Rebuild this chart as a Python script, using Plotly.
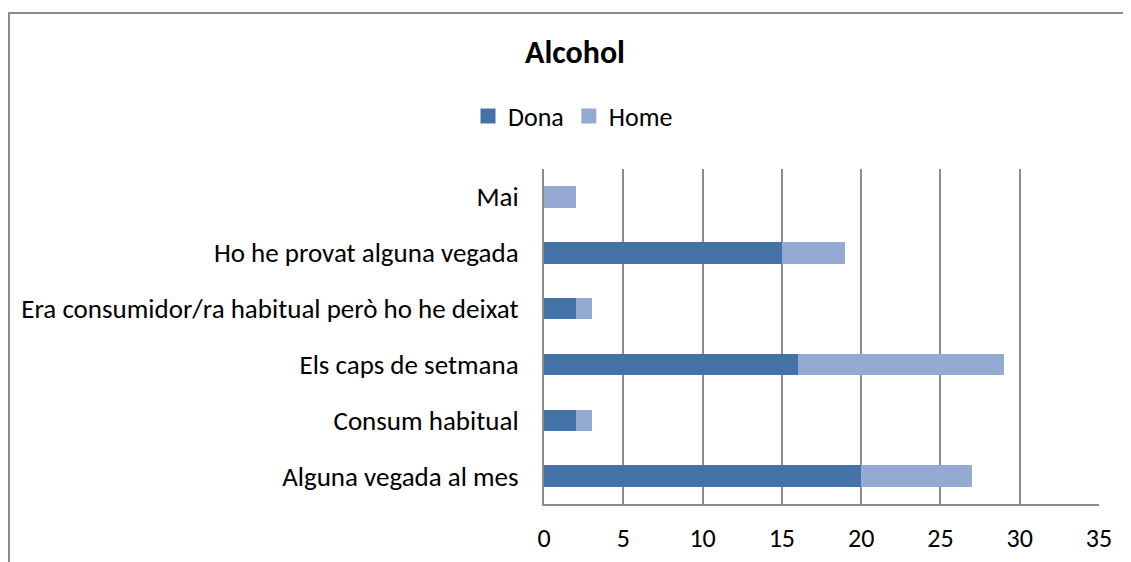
import plotly.graph_objects as go

categories = ["Alguna vegada al mes", "Consum habitual", "Els caps de setmana",
              "Era consumidor/ra habitual però ho he deixat", "Ho he provat alguna vegada", "Mai"]
dona = [20, 2, 16, 2, 15, 0]
home = [7, 1, 13, 1, 4, 2]
x_ticks = [0, 5, 10, 15, 20, 25, 30, 35]

FONT = "Carlito, Lato, Liberation Sans, sans-serif"
OFF = 8  # page body margin
C_DONA, C_HOME = "#4673A7", "#95AAD3"

W, H = 1131 - OFF, 562 - OFF
L, R, T, B = 544 - OFF, 1131 - 1099, 169 - OFF, 562 - 504
pw, ph = W - L - R, H - T - B

def px_x(p):  # screen px -> paper
    return (p - OFF - L) / pw

def px_y(p):
    return (H - B - (p - OFF)) / ph

fig = go.Figure()
fig.add_trace(go.Bar(y=categories, x=dona, name="Dona", orientation="h", showlegend=False,
                     marker=dict(color=C_DONA, line=dict(width=0))))
fig.add_trace(go.Bar(y=categories, x=home, name="Home", orientation="h", showlegend=False,
                     marker=dict(color=C_HOME, line=dict(width=0))))
# legend entries with larger square swatches
for name, col in [("Dona", C_DONA), ("Home", C_HOME)]:
    fig.add_trace(go.Scatter(x=[None], y=[None], mode="markers", name=name,
                             marker=dict(symbol="square", size=15, color=col),
                             hoverinfo="skip"))

fig.update_layout(
    width=W, height=H,
    margin=dict(l=L, r=R, t=T, b=B, autoexpand=False),
    barmode="stack", bargap=0.615,
    plot_bgcolor="white", paper_bgcolor="white",
    font=dict(family=FONT, size=26, color="#000000"),
    title=dict(text="<b>Alcohol</b>", x=px_x(575), xref="paper", xanchor="center",
               y=1 - (52 - OFF) / H, yref="container", yanchor="middle",
               font=dict(family=FONT, size=32, color="#000000")),
    legend=dict(orientation="h", x=px_x(468), xanchor="left", y=px_y(116), yanchor="middle",
                font=dict(family=FONT, size=26), traceorder="normal",
                bgcolor="rgba(0,0,0,0)"),
    showlegend=True,
    xaxis=dict(range=[0, 35], tickvals=x_ticks, ticktext=[str(v) for v in x_ticks],
               showgrid=True, gridcolor="#8C8C8C", gridwidth=2,
               showline=True, linecolor="#8C8C8C", linewidth=2,
               zeroline=False, ticks="", ticklabelstandoff=10,
               tickfont=dict(family=FONT, size=26)),
    yaxis=dict(categoryorder="array", categoryarray=categories,
               showgrid=False, showline=True, linecolor="#8C8C8C", linewidth=2,
               ticks="", ticklabelstandoff=18, tickfont=dict(family=FONT, size=27)),
    shapes=[
        dict(type="line", xref="paper", yref="paper", x0=px_x(8), x1=px_x(1200),
             y0=px_y(13), y1=px_y(13), line=dict(color="#8C8C8C", width=2)),
        dict(type="line", xref="paper", yref="paper", x0=px_x(9), x1=px_x(9),
             y0=px_y(12), y1=px_y(600), line=dict(color="#8C8C8C", width=2)),
    ],
)

fig.write_html("out.html")
